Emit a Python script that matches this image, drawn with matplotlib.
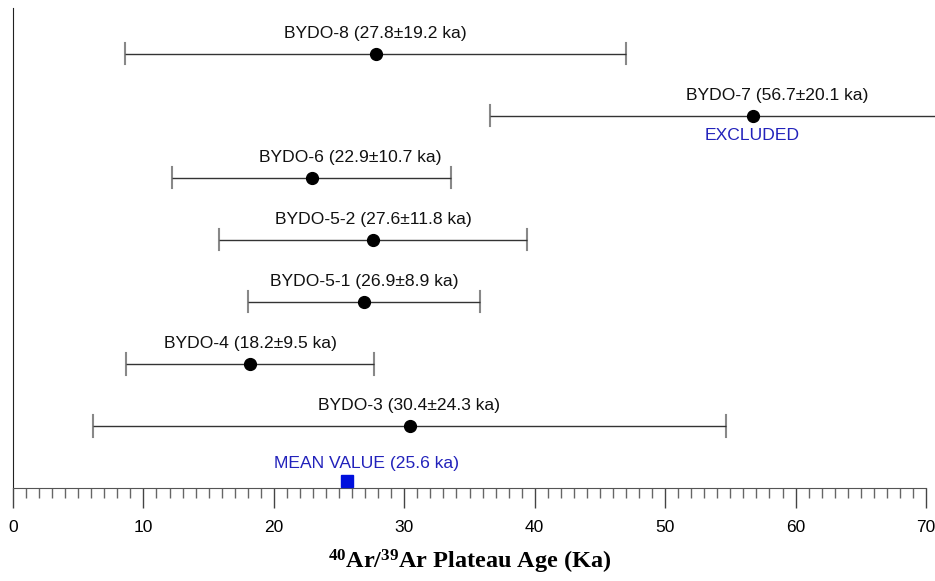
import matplotlib
matplotlib.use("Agg")
import matplotlib.pyplot as plt
from matplotlib.ticker import MultipleLocator

plt.rcParams['font.family'] = ['Liberation Sans', 'DejaVu Sans']
plt.rcParams['mathtext.default'] = 'regular'

# 시료 데이터
samples = ['BYDO-8', 'BYDO-7', 'BYDO-6', 'BYDO-5-2', 'BYDO-5-1', 'BYDO-4', 'BYDO-3']
ages = [27.8, 56.7, 22.9, 27.6, 26.9, 18.2, 30.4]
errors = [19.2, 20.1, 10.7, 11.8, 8.9, 9.5, 24.3]
rows = [7, 6, 5, 4, 3, 2, 1]
mean_age = 25.6
mean_row = 0.11

# 라벨 가로 위치 보정 (pt)
label_dx = [0, 18, 28, 0, 0, 0, 0]

fig = plt.figure(figsize=(9.35, 5.81), dpi=100)
ax = fig.add_axes([13 / 935, (581 - 488) / 581, 913 / 935, 480 / 581])

for name, a, e, r, dx in zip(samples, ages, errors, rows, label_dx):
    ax.errorbar(a, r, xerr=e, fmt='o', color='black', ms=8.5,
                ecolor='#333333', elinewidth=1.0, capsize=0, clip_on=False, zorder=3)
    # 캡
    ax.plot([a - e, a - e], [r - 0.17, r + 0.17], color='#888888', lw=1.5, clip_on=False)
    ax.plot([a + e, a + e], [r - 0.17, r + 0.17], color='#888888', lw=1.5, clip_on=False)
    ax.annotate(f"{name} ({a}\u00b1{e} ka)", (a, r), xytext=(dx, 14.5),
                textcoords='offset points', ha='center', va='center',
                fontsize=12.6, color='#111111')

ax.annotate("EXCLUDED", (ages[1], rows[1]), xytext=(0, -14),
            textcoords='offset points', ha='center', va='center',
            fontsize=12.6, color='#2222bb')

ax.plot(mean_age, mean_row, 's', color='#0010dd', ms=8, clip_on=False, zorder=4)
ax.annotate(f"MEAN VALUE ({mean_age} ka)", (mean_age, mean_row), xytext=(14, 13),
            textcoords='offset points', ha='center', va='center',
            fontsize=12.6, color='#2222bb')

ax.set_xlim(0, 70)
ax.set_ylim(0, 7.74)
ax.xaxis.set_major_locator(MultipleLocator(10))
ax.xaxis.set_minor_locator(MultipleLocator(1))
ax.tick_params(axis='x', which='major', direction='out', length=14.4, width=1,
               color='#444444', labelsize=12.5, pad=9)
ax.tick_params(axis='x', which='minor', direction='out', length=7.2, width=1,
               color='#666666')
ax.set_yticks([])
for s in ['top', 'right']:
    ax.spines[s].set_visible(False)
ax.spines['left'].set_color('#222222')
ax.spines['bottom'].set_color('#555555')
ax.spines['left'].set_bounds(0, 7.74)

ax.set_xlabel(r'$^{40}$Ar/$^{39}$Ar Plateau Age (Ka)', fontsize=17.5,
              family='Liberation Serif', fontweight='bold', labelpad=9)

fig.savefig("out.png", dpi=100)
